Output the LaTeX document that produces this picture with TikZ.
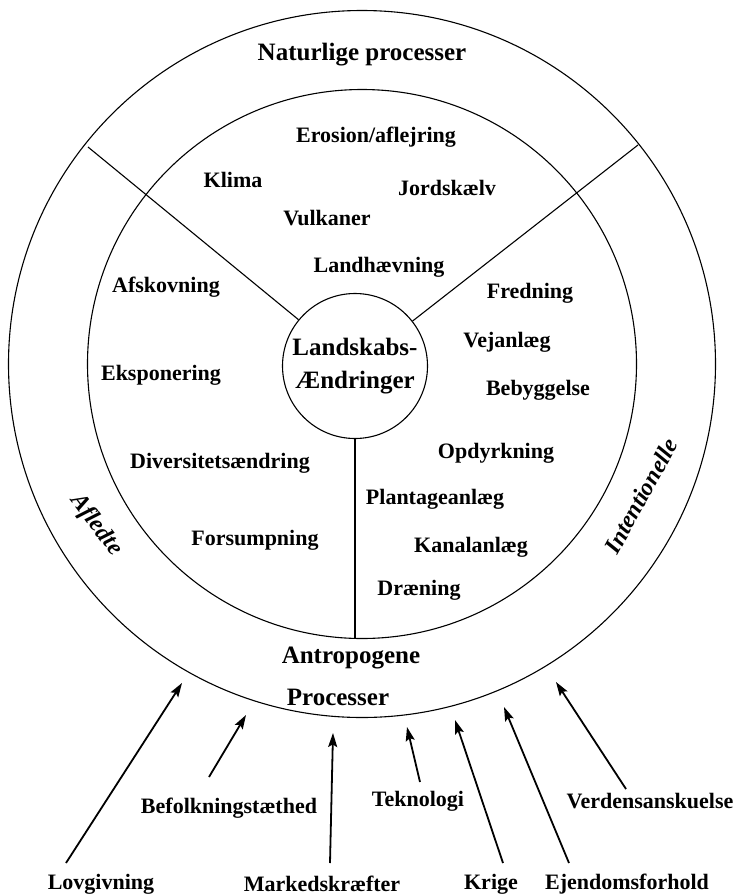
\documentclass[tikz,border=0pt]{standalone}
\usepackage{fontspec}
\setmainfont{Liberation Serif}
\usetikzlibrary{arrows.meta}
\begin{document}
\begin{tikzpicture}[x=1pt,y=-1pt,
  ring/.style={draw, line width=1.1pt},
  sep/.style={line width=1.1pt},
  lbl/.style={font=\fontsize{22}{24}\selectfont\bfseries, inner sep=0pt},
  big/.style={font=\fontsize{25}{27}\selectfont\bfseries, inner sep=0pt},
  side/.style={font=\fontsize{24}{26}\selectfont\bfseries\itshape, inner sep=0pt},
  arr/.style={line width=1.8pt, -{Stealth[length=14pt,width=9pt,inset=2.5pt]}}
]
\useasboundingbox (0,0) rectangle (735,895);
\coordinate (c) at (362,364);
\draw[ring] (c) circle[radius=353.5];
\draw[ring] (c) circle[radius=274.5];
\node[draw, circle, line width=1.1pt, minimum size=145pt, inner sep=0pt, align=center,
      font=\fontsize{25}{33}\selectfont\bfseries] (lc) at (355,366) {Landskabs-\\Ændringer};
% separators
\coordinate (pl) at (88,147);
\coordinate (pr) at (638,145);
\coordinate (vb) at (355,637.5);
\draw[sep] (pl) -- (lc);
\draw[sep] (pr) -- (lc);
\draw[sep] (lc.south) -- (vb);
% titles
\node[big] (nat) at (362,55) {Naturlige processer};
\node[big] (ant) at (351,658) {Antropogene};
\node[big] (pro) at (338,697) {Processer};
% natural
\node[lbl] (ero) at (376,137) {Erosion/aflejring};
\node[lbl] (kli) at (233,180) {Klima};
\node[lbl] (jor) at (447,188) {Jordskælv};
\node[lbl] (vul) at (327,218) {Vulkaner};
\node[lbl] (lan) at (379,267) {Landhævning};
% derived
\node[lbl] (afs) at (166,287) {Afskovning};
\node[lbl] (eks) at (161,375) {Eksponering};
\node[lbl] (div) at (220,463) {Diversitetsændring};
\node[lbl] (for) at (255,540) {Forsumpning};
% intentional
\node[lbl] (fre) at (530,293) {Fredning};
\node[lbl] (vej) at (507,342) {Vejanlæg};
\node[lbl] (beb) at (538,390) {Bebyggelse};
\node[lbl] (opd) at (496,453) {Opdyrkning};
\node[lbl] (pla) at (435,499) {Plantageanlæg};
\node[lbl] (kan) at (471,547) {Kanalanlæg};
\node[lbl] (dra) at (419,590) {Dræning};
% side labels
\node[side, rotate=-53] (afl) at (96,525) {Afledte};
\node[side, rotate=61] (int) at (641,496) {Intentionelle};
% driver labels
\node[lbl] (lov) at (101,884) {Lovgivning};
\node[lbl] (bef) at (229,808) {Befolkningstæthed};
\node[lbl] (mar) at (322,884) {Markedskræfter};
\node[lbl] (tek) at (418,801) {Teknologi};
\node[lbl] (kri) at (491,884) {Krige};
\node[lbl] (ejd) at (627,884) {Ejendomsforhold};
\node[lbl] (ver) at (650,801) {Verdensanskuelse};
% arrow ends
\coordinate (a1) at (66,863);   \coordinate (b1) at (182,683);
\coordinate (a2) at (209,777);  \coordinate (b2) at (246,715);
\coordinate (a3) at (330,863);  \coordinate (b3) at (333,733);
\coordinate (a4) at (420,782);  \coordinate (b4) at (407,727);
\coordinate (a5) at (503,863);  \coordinate (b5) at (455,720);
\coordinate (a6) at (569,863);  \coordinate (b6) at (504,707);
\coordinate (a7) at (626,789);  \coordinate (b7) at (556,682);
\draw[arr] (a1) -- (b1);
\draw[arr] (a2) -- (b2);
\draw[arr] (a3) -- (b3);
\draw[arr] (a4) -- (b4);
\draw[arr] (a5) -- (b5);
\draw[arr] (a6) -- (b6);
\draw[arr] (a7) -- (b7);
\end{tikzpicture}
\end{document}
